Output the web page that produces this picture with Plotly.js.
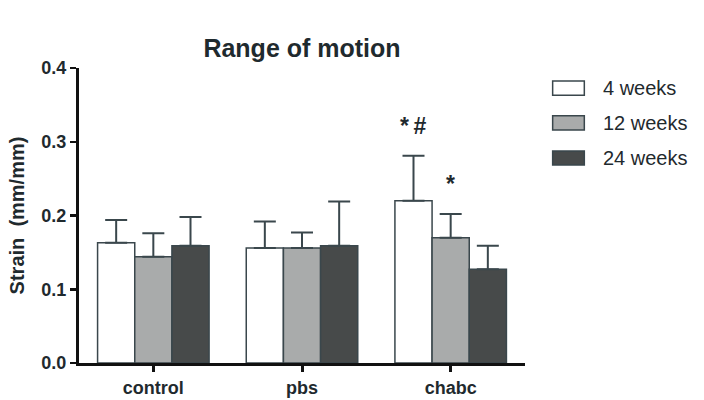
<!DOCTYPE html>
<html><head><meta charset="utf-8">
<script src="https://cdn.plot.ly/plotly-3.0.1.min.js"></script>
<style>html,body{margin:0;padding:0;background:#fff}</style>
</head><body>
<div id="chart" style="width:704px;height:400px"></div>
<script>
var categories = ["control", "pbs", "chabc"];
var seriesNames = ["4 weeks", "12 weeks", "24 weeks"];
var week4 = [0.163, 0.156, 0.220];
var week4Err = [0.031, 0.036, 0.061];
var week12 = [0.144, 0.156, 0.170];
var week12Err = [0.032, 0.021, 0.032];
var week24 = [0.159, 0.159, 0.127];
var week24Err = [0.039, 0.060, 0.032];
var yTicks = [0.0, 0.1, 0.2, 0.3, 0.4];
var yTickLabels = ["0.0", "0.1", "0.2", "0.3", "0.4"];
var marks = [
  {cat: "chabc", series: 0, text: "*\u2009#"},
  {cat: "chabc", series: 1, text: "*"}
];

var FONT = "Liberation Sans, Arial, sans-serif";
var fills = ["#ffffff", "#a9abab", "#474a4a"];
var edge = "#3a474c";
var txt = "#1f2a2e";
var vals = [week4, week12, week24];
var errs = [week4Err, week12Err, week24Err];

var traces = vals.map(function(v, i){
  return {
    type: "bar", x: categories, y: v, name: seriesNames[i],
    marker: {color: fills[i], line: {color: edge, width: 1.5}},
    error_y: {type: "data", array: errs[i], symmetric: false, arrayminus: v.map(function(){return 0;}),
              visible: true, color: edge, thickness: 2, width: 11},
    showlegend: false, hoverinfo: "none"
  };
});

var shapes = [];
var annotations = [];
var legY = [0.932, 0.814, 0.695];
seriesNames.forEach(function(n, i){
  shapes.push({type: "rect", xref: "paper", yref: "paper",
    x0: 1.062, x1: 1.133, y0: legY[i] - 0.024, y1: legY[i] + 0.024,
    fillcolor: fills[i], line: {color: edge, width: 1.5}});
  annotations.push({xref: "paper", yref: "paper", x: 1.17, y: legY[i],
    xanchor: "left", yanchor: "middle", text: n, showarrow: false,
    font: {family: FONT, size: 20, color: txt}});
});

// significance marks, placed above the error bar of the relevant bar
var offsets = [-1/3, 0, 1/3];
marks.forEach(function(m){
  var ci = categories.indexOf(m.cat);
  var top = vals[m.series][ci] + errs[m.series][ci];
  annotations.push({xref: "x", yref: "y", x: ci + offsets[m.series] * 0.75, y: top + 0.02,
    xanchor: "center", yanchor: "bottom", text: "<b>" + m.text + "</b>", showarrow: false,
    font: {family: FONT, size: 23, color: txt}});
});

var layout = {
  width: 704, height: 400,
  margin: {l: 79, r: 179, t: 68, b: 37},
  paper_bgcolor: "#fff", plot_bgcolor: "#fff",
  barmode: "group", bargap: 0.25, bargroupgap: 0,
  title: {text: "<b>Range of motion</b>", x: 0.5, xref: "paper", yref: "container", y: 0.88, yanchor: "middle",
    font: {family: FONT, size: 25, color: txt}},
  xaxis: {
    type: "category", range: [-0.5, 2.5],
    showline: true, linecolor: "#111", linewidth: 3,
    ticks: "outside", ticklen: 6, tickwidth: 3, tickcolor: "#111",
    tickfont: {family: FONT, size: 18, color: txt},
    tickprefix: "<b>", ticksuffix: "</b>",
    showgrid: false, zeroline: false, fixedrange: true
  },
  yaxis: {
    range: [0, 0.4], tickvals: yTicks, ticktext: yTickLabels.map(function(t){return "<b>" + t + "</b>";}),
    showline: true, linecolor: "#111", linewidth: 3,
    ticks: "outside", ticklen: 6, tickwidth: 2.5, tickcolor: "#111",
    tickfont: {family: FONT, size: 18, color: txt},
    showgrid: false, zeroline: false, fixedrange: true,
    title: {text: "<b>Strain  (mm/mm)</b>", standoff: 12,
      font: {family: FONT, size: 20, color: txt}}
  },
  shapes: shapes,
  annotations: annotations
};

Plotly.newPlot("chart", traces, layout, {displayModeBar: false, staticPlot: true});
</script>
</body></html>
